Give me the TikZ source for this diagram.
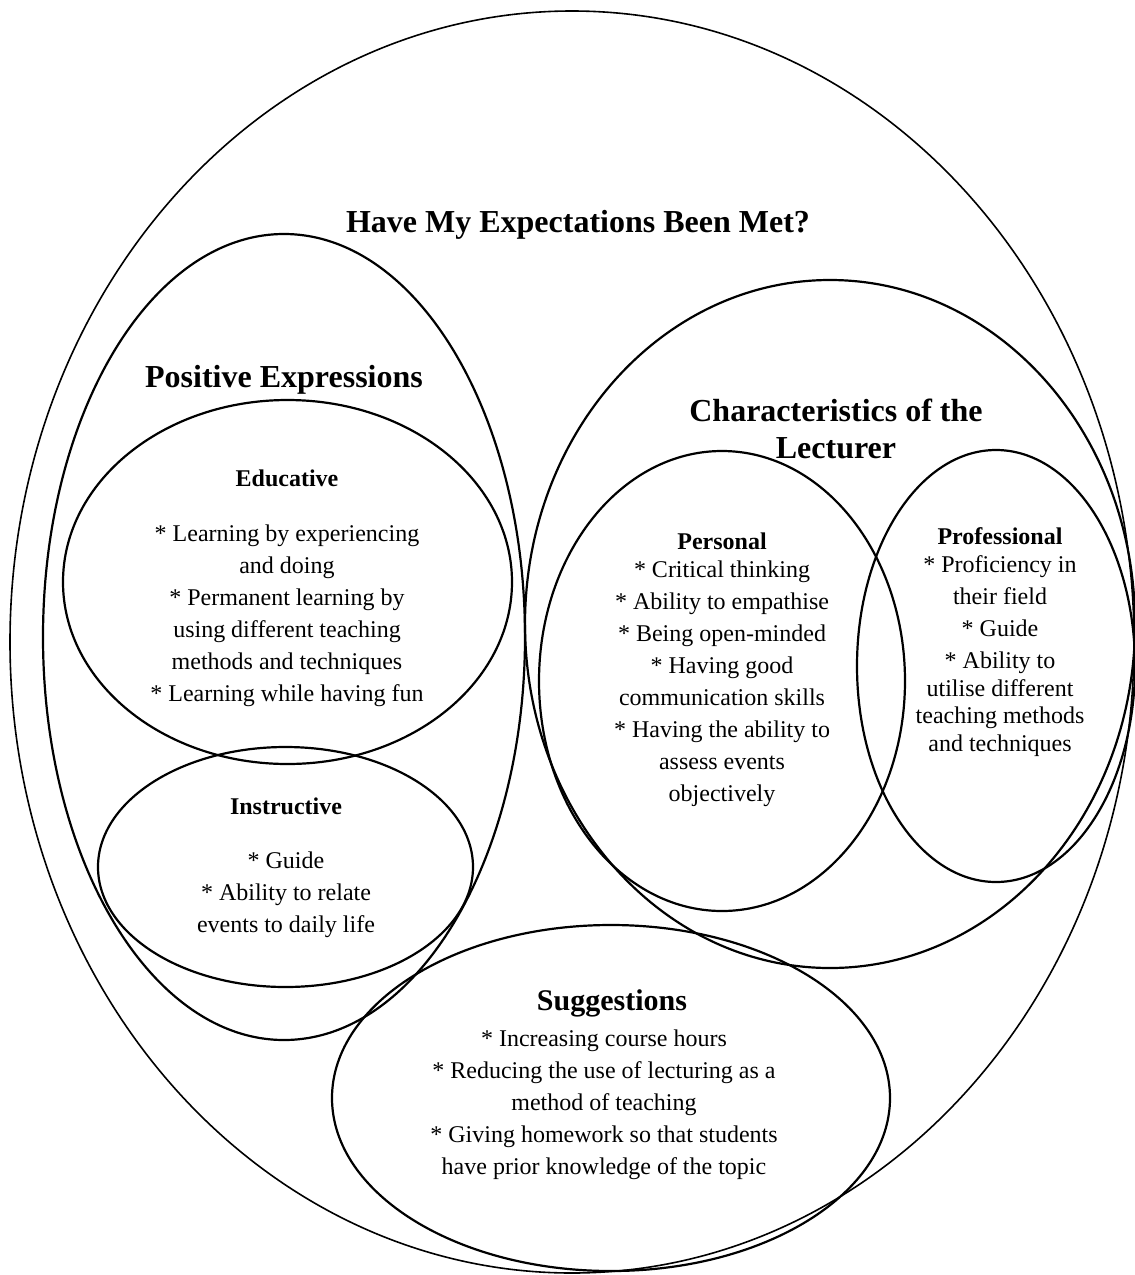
\documentclass[tikz,border=0pt]{standalone}
\usepackage{fontspec}
\setmainfont{Liberation Serif}
\begin{document}
\begin{tikzpicture}[x=0.5pt,y=-0.5pt,
  outerring/.style={draw,line width=0.8pt},
  ring/.style={draw,line width=1.1pt},
  bigtitle/.style={font=\fontsize{16}{18.5}\selectfont\bfseries, align=center, inner sep=0pt},
  subhead/.style={font=\fontsize{12}{14}\selectfont\bfseries, inner sep=0pt},
  body/.style={font=\fontsize{12}{16}\selectfont, align=center, inner sep=0pt}]
\useasboundingbox (0,0) rectangle (1135,1275);
% ellipses
\draw[outerring] (572,642) ellipse [x radius=281pt, y radius=315.5pt];
\draw[ring] (284,637) ellipse [x radius=120.5pt, y radius=201.5pt];
\draw[ring] (287.5,582) ellipse [x radius=112.25pt, y radius=91pt];
\draw[ring] (285.5,867) ellipse [x radius=93.75pt, y radius=60pt];
\draw[ring] (830,624) ellipse [x radius=152.5pt, y radius=172pt];
\draw[ring] (722,681) ellipse [x radius=91.5pt, y radius=115pt];
\draw[ring] (996,666) ellipse [x radius=69.5pt, y radius=108pt];
\draw[ring] (611,1098) ellipse [x radius=139.5pt, y radius=86.5pt];
% titles
\node[bigtitle] (title) at (578,225) {Have My Expectations Been Met?};
\node[bigtitle] (posT) at (284,380) {Positive Expressions};
\node[bigtitle] (charT) at (836,428.5) {Characteristics of the\\Lecturer};
\node[bigtitle, font=\fontsize{15}{18}\selectfont\bfseries] (sugT) at (612,1003) {Suggestions};
% sub headings
\node[subhead] (eduT) at (287,478) {Educative};
\node[subhead] (insT) at (286,806) {Instructive};
\node[subhead] (perT) at (722,541) {Personal};
\node[subhead] (proT) at (1000,536) {Professional};
% bodies
\node[body] (eduB) at (287,616) {* Learning by experiencing\\and doing\\* Permanent learning by\\using different teaching\\methods and techniques\\* Learning while having fun};
\node[body] (insB) at (286,895) {* Guide\\* Ability to relate\\events to daily life};
\node[body] (perB) at (722,684) {* Critical thinking\\* Ability to empathise\\* Being open-minded\\* Having good\\communication skills\\* Having the ability to\\assess events\\objectively};
\node[body] (proB) at (1000,656) {* Proficiency in\\their field\\* Guide\\* Ability to\\[-2.25pt]utilise different\\[-2.25pt]teaching methods\\[-2.25pt]and techniques};
\node[body] (sugB) at (604,1105) {* Increasing course hours\\* Reducing the use of lecturing as a\\method of teaching\\* Giving homework so that students\\have prior knowledge of the topic};
\end{tikzpicture}
\end{document}
